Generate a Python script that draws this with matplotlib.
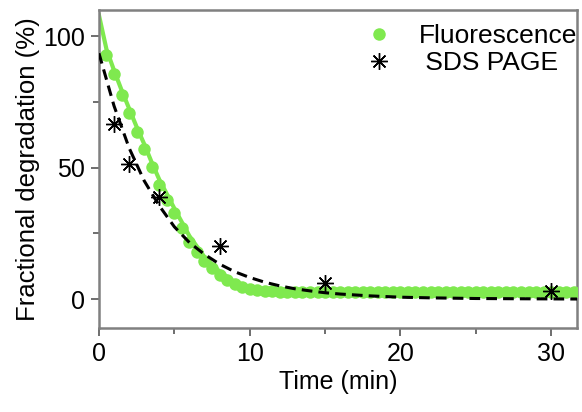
import matplotlib
matplotlib.use("Agg")
import matplotlib.pyplot as plt
from matplotlib.ticker import MultipleLocator

plt.rcParams['font.family'] = ['Liberation Sans', 'DejaVu Sans']

# Fluorescence data points (every 0.5 min)
fluor_t = [0.5, 1.0, 1.5, 2.0, 2.5, 3.0, 3.5, 4.0, 4.5, 5.0, 5.5, 6.0, 6.5, 7.0, 7.5,
           8.0, 8.5, 9.0, 9.5, 10.0, 10.5, 11.0, 11.5, 12.0, 12.5, 13.0, 13.5, 14.0,
           14.5, 15.0, 15.5, 16.0, 16.5, 17.0, 17.5, 18.0, 18.5, 19.0, 19.5, 20.0,
           20.5, 21.0, 21.5, 22.0, 22.5, 23.0, 23.5, 24.0, 24.5, 25.0, 25.5, 26.0,
           26.5, 27.0, 27.5, 28.0, 28.5, 29.0, 29.5, 30.0, 30.5, 31.0, 31.5]
fluor_y = [92.7, 85.5, 77.5, 70.6, 63.5, 57.0, 50.1, 43.5, 37.6, 32.7, 27.0, 21.8, 17.8,
           14.3, 11.8, 9.2, 7.3, 5.8, 4.7, 3.9, 3.4, 3.1, 2.9, 2.8, 2.7, 2.7, 2.6, 2.6,
           2.6, 2.6, 2.6, 2.6, 2.6, 2.6, 2.6, 2.6, 2.6, 2.6, 2.6, 2.6, 2.6, 2.6, 2.6,
           2.6, 2.6, 2.6, 2.6, 2.6, 2.6, 2.6, 2.6, 2.6, 2.6, 2.6, 2.6, 2.6, 2.6, 2.6,
           2.6, 2.6, 2.6, 2.6, 2.6]

# Fluorescence fit curve
ffit_t = [0, 0.5, 1, 1.5, 2, 2.5, 3, 3.5, 4, 5, 6, 7, 8, 9, 10, 11, 12, 13, 15, 20, 25, 32]
ffit_y = [108, 95, 87, 79.5, 72.5, 65.5, 59, 52, 45.5, 34.5, 24, 16, 10.5, 6.5, 4.2,
          3.2, 2.8, 2.6, 2.6, 2.6, 2.6, 2.6]

# SDS PAGE data points
sds_t = [1, 2, 4, 8, 15, 30]
sds_y = [66.5, 51.5, 39, 20, 6, 3]

# SDS PAGE fit curve
sfit_t = [0, 1, 2, 3, 4, 5, 6, 7, 8, 9, 10, 11, 12, 13, 14, 15, 16, 18, 20, 22, 25, 28, 32]
sfit_y = [93.5, 73.5, 57.5, 45, 35.5, 27.5, 21.5, 17, 13.3, 10.4, 8.2, 6.4, 5.0, 3.9,
          3.1, 2.4, 1.9, 1.2, 0.7, 0.45, 0.2, 0.1, 0.0]

x_ticks = [0, 10, 20, 30]
y_ticks = [0, 50, 100]

green = '#7fe94f'
fs = 18

fig = plt.figure(figsize=(5.82, 4.12), dpi=100)
ax = fig.add_axes([0.170, 0.204, 0.821, 0.772])

ax.plot(ffit_t, ffit_y, color=green, lw=3.0, zorder=2)
ax.plot(fluor_t, fluor_y, 'o', color=green, ms=9, mec='none', zorder=3,
        label='Fluorescence')
ax.plot(sfit_t, sfit_y, color='black', lw=2.2, dashes=(3.5, 2.0), zorder=4)
ax.plot(sds_t, sds_y, ls='none', marker=(8, 2, 0), ms=12, color='black',
        mew=1.0, zorder=5, label=' SDS PAGE')

ax.set_xlim(0, 31.7)
ax.set_ylim(-11, 110)
ax.set_xticks(x_ticks)
ax.set_yticks(y_ticks)
ax.xaxis.set_minor_locator(MultipleLocator(5))
ax.yaxis.set_minor_locator(MultipleLocator(25))

for sp in ax.spines.values():
    sp.set_color('#808080')
    sp.set_linewidth(1.8)

ax.tick_params(which='both', direction='out', color='#555555', width=1.2,
               labelsize=fs, pad=4)
ax.tick_params(which='major', length=6)
ax.tick_params(which='minor', length=4)

ax.set_xlabel('Time (min)', fontsize=fs, labelpad=3)
ax.set_ylabel('Fractional degradation (%)', fontsize=18.5, labelpad=2)

leg = ax.legend(loc='upper right', bbox_to_anchor=(1.0, 0.955), frameon=False,
                fontsize=19, handletextpad=1.0, borderaxespad=0.0, borderpad=0.0,
                labelspacing=0.1, handlelength=1.0)

fig.savefig('out.png', dpi=100)
